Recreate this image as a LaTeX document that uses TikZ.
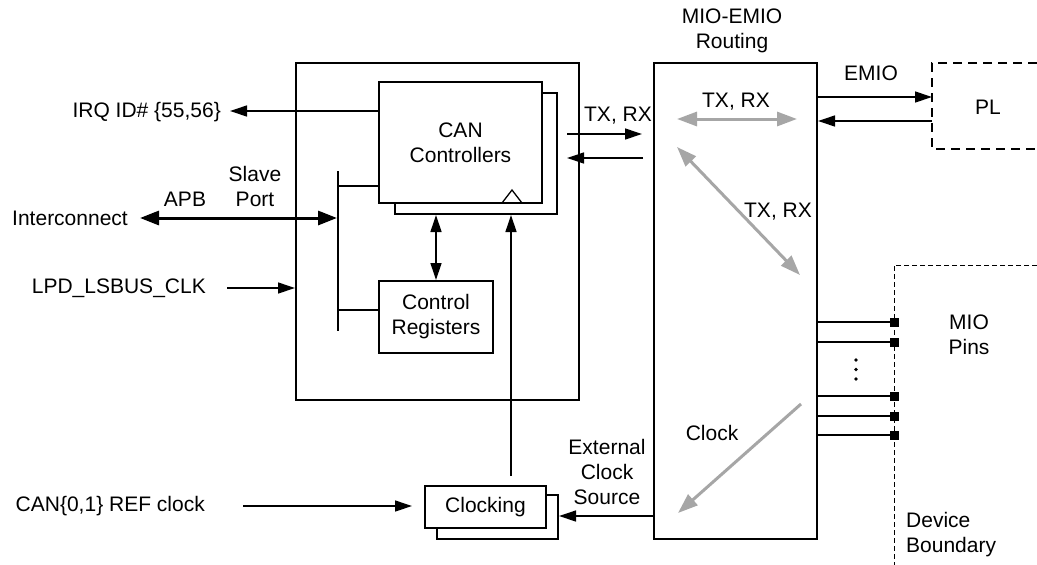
\documentclass[tikz,border=0pt]{standalone}
\usepackage{fontspec}
\setmainfont{Liberation Sans}
\usetikzlibrary{arrows.meta}
\definecolor{garrow}{RGB}{166,166,166}
\begin{document}
\begin{tikzpicture}[x=1pt,y=-1pt,
  every node/.style={font=\fontsize{21}{25}\selectfont, inner sep=0pt, align=center},
  box/.style={draw, line width=2pt, fill=white, rectangle},
  thinline/.style={line width=1.3pt},
  arr/.style={line width=1.3pt, -{Triangle[length=17pt,width=11pt]}},
  darr/.style={line width=1.3pt, {Triangle[length=17pt,width=11pt]}-{Triangle[length=17pt,width=11pt]}},
  busarr/.style={line width=3pt, {Triangle[length=19pt,width=14pt]}-{Triangle[length=19pt,width=14pt]}},
  garr/.style={draw=garrow, line width=3pt, -{Triangle[length=20pt,width=14pt]}},
  dgarr/.style={draw=garrow, line width=3pt, {Triangle[length=20pt,width=14pt]}-{Triangle[length=20pt,width=14pt]}},
  pin/.style={fill=black, draw=none, minimum width=9pt, minimum height=9pt, rectangle}
]
\useasboundingbox (0,0) rectangle (1037,565);

% main boxes
\node[box, minimum width=283pt, minimum height=337pt] (outer) at (437.5,231.5) {};
\node[box, minimum width=162pt, minimum height=121pt] (canb) at (476,153.5) {};
\node[box, minimum width=163pt, minimum height=121pt] (canf) at (460.5,142.5) {CAN\\Controllers};
\node[box, minimum width=114pt, minimum height=72pt] (ctrl) at (436,317) {Control\\Registers};
\node[box, minimum width=163pt, minimum height=476pt] (mio) at (735.5,301) {};
\node[box, minimum width=121pt, minimum height=44pt] (clkb) at (497.5,517) {};
\node[box, minimum width=121pt, minimum height=42pt] (clkf) at (485.5,507) {Clocking};

% clock input mark
\coordinate (tri1) at (502,203);
\coordinate (tri2) at (512,190);
\coordinate (tri3) at (522,203);
\draw[thinline] (tri1) -- (tri2) -- (tri3);

% titles and labels
\node (miotitle) at (732,31) {MIO-EMIO\\Routing};
\node[anchor=east] (irq) at (221,112) {IRQ ID\# \{55,56\}};
\node[anchor=east] (ic) at (128,218) {Interconnect};
\node (apb) at (185,199) {APB};
\node (slave) at (255,186) {Slave\\Port};
\node[anchor=east] (lpd) at (206,288) {LPD\_LSBUS\_CLK};
\node[anchor=east] (refclk) at (205,506) {CAN\{0,1\} REF clock};
\node (txrx1) at (618,116) {TX, RX};
\node (txrx2) at (736,102) {TX, RX};
\node (txrx3) at (778,212) {TX, RX};
\node (clocklbl) at (712,433) {Clock};
\node (ext) at (607,472) {External\\Clock\\Source};
\node (emio) at (871,73) {EMIO};
\node (pl) at (988,107) {PL};
\node (miopins) at (969,335) {MIO\\Pins};
\node[align=left, anchor=west] (devb) at (906,535) {Device\\Boundary};

% IRQ
\coordinate (irqend) at (230,111);
\draw[arr] (canf.west |- irqend) -- (irqend);

% bus
\coordinate (bustop) at (338,171);
\coordinate (busbot) at (338,331);
\draw[line width=2.5pt] (bustop) -- (busbot);
\coordinate (b1) at (338,186);
\coordinate (b2) at (338,310);
\draw[thinline] (b1) -- (b1 -| canf.west);
\draw[thinline] (b2) -- (b2 -| ctrl.west);
\coordinate (icend) at (140,218);
\coordinate (busin) at (337,218);
\draw[busarr] (icend) -- (busin);

% LPD clock
\coordinate (lpdstart) at (227,288);
\draw[arr] (lpdstart) -- (lpdstart -| outer.west);

% CAN <-> Control
\draw[darr] (ctrl.north) -- (ctrl.north |- canb.south);

% Clocking -> CAN
\coordinate (clkup) at (511,476);
\draw[arr] (clkup) -- (clkup |- canb.south);

% CAN TX/RX
\coordinate (tx1s) at (567,134);
\coordinate (tx1e) at (642,134);
\coordinate (rx1s) at (643,158);
\coordinate (rx1e) at (567,158);
\draw[arr] (tx1s) -- (tx1e);
\draw[arr] (rx1s) -- (rx1e);

% grey routing arrows
\coordinate (g1a) at (677,119);
\coordinate (g1b) at (797,119);
\draw[dgarr] (g1a) -- (g1b);
\coordinate (g2a) at (677,147);
\coordinate (g2b) at (800,275);
\draw[dgarr] (g2a) -- (g2b);
\coordinate (g3a) at (801,404);
\coordinate (g3b) at (678,513);
\draw[garr] (g3a) -- (g3b);

% EMIO
\coordinate (emio1) at (932,97);
\coordinate (emio2) at (932,121);
\draw[arr] (emio1 -| mio.east) -- (emio1);
\draw[arr] (emio2) -- (emio2 -| mio.east);
\coordinate (plA) at (1037,63);
\coordinate (plB) at (932,149);
\coordinate (plC) at (1037,149);
\draw[line width=2pt, dash pattern=on 9pt off 6pt] (plA) -| (plB) -- (plC);

% device boundary
\coordinate (dbA) at (1037,265);
\coordinate (dbB) at (894,265);
\coordinate (dbC) at (894,565);
\draw[line width=1pt, dash pattern=on 5pt off 3pt] (dbA) -- (dbB) -- (dbC);

% MIO pins
\foreach \y [count=\i] in {322,342,396,416,435} {
  \coordinate (p\i) at (894,\y);
  \draw[thinline] (p\i -| mio.east) -- (p\i);
  \node[pin] (pin\i) at (p\i) {};
}
\foreach \y [count=\i] in {360,369.5,379} {
  \fill (856,\y) circle (1.9pt);
}

% external clock source
\coordinate (ecs) at (654,516);
\draw[arr] (ecs) -- (ecs -| clkb.east);

% REF clock
\coordinate (refs) at (243,506);
\coordinate (refe) at (412,506);
\draw[arr] (refs) -- (refe);
\end{tikzpicture}
\end{document}
